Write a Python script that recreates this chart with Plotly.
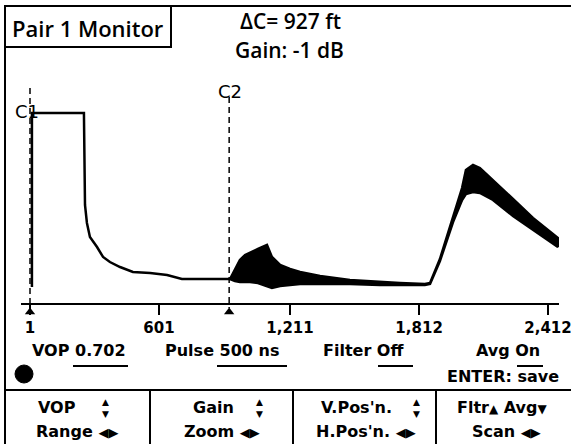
import plotly.graph_objects as go

# TDR trace: distance (ft) and the top/bottom edge of the
# averaged trace (display level units)
distance_ft = [10, 10, 252, 257, 266, 280, 313, 341, 373, 420, 480, 560, 639, 708, 932,
               955, 978, 1002, 1025, 1062, 1104, 1127, 1165, 1211, 1258, 1351, 1490, 1630,
               1723, 1839, 1863, 1909, 1970, 2012, 2030, 2063, 2095, 2156, 2249, 2342, 2458]
upper_level = [17, 191, 191, 99, 81, 67, 57, 47, 42, 37, 32, 31, 29, 25, 25,
               34, 44, 49, 51, 55, 59, 47, 39, 35, 32, 28, 24, 22,
               21, 20, 21, 45, 86, 116, 134, 139, 136, 124, 105, 86, 66]
lower_level = [17, 191, 191, 99, 81, 67, 57, 47, 42, 37, 32, 31, 29, 25, 25,
               23, 22, 22, 22, 21, 18, 16, 18, 19, 20, 20, 20, 19,
               19, 19, 20, 43, 82, 104, 110, 112, 111, 104, 88, 74, 57]

cursor_names = ["C1", "C2"]
cursor_ft = [1, 928]

tick_vals = [1, 601, 1211, 1812, 2412]
tick_text = ["1", "601", "1,211", "1,812", "2,412"]

W, H = 571, 444
FONT = "DejaVu Sans"
HEAD_FONT = "Open Sans"


def px(x):
    return x / W


def py(y):
    return 1 - y / H


# screen mapping: 1 ft at x=30px, 2412 ft at x=548px
k = (tick_vals[-1] - tick_vals[0]) / (548 - 30)
x_lo = 1 - (30 - 21) * k
x_hi = 1 + (559 - 30) * k

fig = go.Figure()

# trace as a closed band (thin where upper == lower)
fig.add_trace(go.Scatter(
    x=distance_ft + distance_ft[::-1],
    y=upper_level + lower_level[::-1],
    mode="lines",
    fill="toself",
    fillcolor="black",
    line=dict(color="black", width=2.5),
    hoverinfo="skip",
))

# cursor markers under the axis
fig.add_trace(go.Scatter(
    x=cursor_ft, y=[-8, -8],
    mode="markers",
    marker=dict(symbol="triangle-up", size=9, color="black"),
    cliponaxis=False,
    hoverinfo="skip",
))

shapes = []
annotations = []

# cursor dashed lines + labels
for name, xc, top in zip(cursor_names, cursor_ft, [216, 207]):
    shapes.append(dict(type="line", xref="x", yref="y", x0=xc, x1=xc, y0=top, y1=-4,
                       line=dict(color="black", width=1.5, dash="6px,4px"), layer="below"))
annotations.append(dict(x=-13, y=193, xref="x", yref="y", text="C1", showarrow=False,
                        font=dict(family=FONT, size=18, color="black")))
annotations.append(dict(x=932, y=213, xref="x", yref="y", text="C2", showarrow=False,
                        font=dict(family=FONT, size=18, color="black")))

# frame lines
line = dict(color="black", width=2)
shapes += [
    dict(type="line", xref="paper", yref="paper", x0=px(5), x1=px(5), y0=py(6), y1=py(444), line=line),
    dict(type="line", xref="paper", yref="paper", x0=px(5), x1=px(571), y0=py(6), y1=py(6), line=line),
    dict(type="rect", xref="paper", yref="paper", x0=px(5), x1=px(171), y0=py(6), y1=py(47), line=line),
    dict(type="line", xref="paper", yref="paper", x0=px(5), x1=px(571), y0=py(390), y1=py(390), line=line),
]
for xd in [150, 293, 436]:
    shapes.append(dict(type="line", xref="paper", yref="paper", x0=px(xd), x1=px(xd),
                       y0=py(390), y1=py(444), line=line))

# underlines for settings
for a, b in [(73, 128), (217, 287), (378, 413), (517, 543)]:
    shapes.append(dict(type="line", xref="paper", yref="paper", x0=px(a), x1=px(b),
                       y0=py(366), y1=py(366), line=line))

# status dot
shapes.append(dict(type="circle", xref="paper", yref="paper", x0=px(15), x1=px(33),
                   y0=py(383), y1=py(365), fillcolor="black", line=dict(color="black", width=1)))


def label(text, x, y, size=16, weight="bold", family=FONT):
    annotations.append(dict(
        x=px(x), y=py(y), xref="paper", yref="paper", text=text, showarrow=False,
        xanchor="center", yanchor="middle",
        font=dict(family=family, size=size, color="black", weight=weight),
    ))


label("Pair 1 Monitor", 88, 28, size=22, weight=600, family=HEAD_FONT)
label("\u0394C= 927 ft", 290, 21, size=21, weight=600, family=HEAD_FONT)
label("Gain: -1 dB", 289, 50, size=21, weight=600, family=HEAD_FONT)

label("VOP 0.702", 79, 350)
label("Pulse 500 ns", 222, 350)
label("Filter Off", 363, 350)
label("Avg On", 508, 350)
label("ENTER: save", 503, 376)

lr = "<span style='font-size:13px'>\u25c0\u25b6</span>"
tri_up = "<span style='font-size:12px'>\u25b2</span>"
tri_dn = "<span style='font-size:12px'>\u25bc</span>"

label("VOP", 57, 407)
label("Gain", 213, 407)
label("V.Pos'n.", 356, 407)
label("Fltr" + tri_up + " Avg" + tri_dn, 502, 407)
for xs in [106, 259, 416]:
    label("\u25b2<br>\u25bc", xs, 408, size=9)

label("Range " + lr, 77, 431)
label("Zoom " + lr, 222, 431)
label("H.Pos'n. " + lr, 366, 431)
label("Scan " + lr, 506, 431)

fig.update_layout(
    width=W, height=H,
    margin=dict(l=0, r=0, t=0, b=0),
    paper_bgcolor="white",
    plot_bgcolor="white",
    showlegend=False,
    hovermode=False,
    shapes=shapes,
    annotations=annotations,
    xaxis=dict(
        domain=[px(21), px(559)],
        range=[x_lo, x_hi],
        anchor="free",
        position=py(304),
        showline=True, linecolor="black", linewidth=2,
        ticks="outside", ticklen=10, tickwidth=2, tickcolor="black",
        tickvals=tick_vals, ticktext=tick_text,
        tickfont=dict(family=FONT, size=15, color="black", weight="bold"),
        ticklabeloverflow="allow",
        automargin=False,
        showgrid=False, zeroline=False,
    ),
    yaxis=dict(
        domain=[py(320), 1],
        range=[-16, 304],
        visible=False,
    ),
)

# the page body has a default 8px margin; drop it so the figure sits at 0,0
fig.write_html("out.html", config={"displayModeBar": False},
               post_script="document.body.style.margin='0px';")
